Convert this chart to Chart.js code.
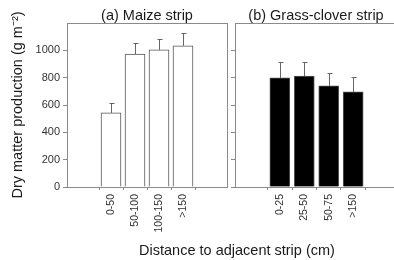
<!DOCTYPE html>
<html>
<head>
<meta charset="utf-8">
<script src="https://cdn.jsdelivr.net/npm/chart.js@4"></script>
<style>
  html, body { margin: 0; padding: 0; background: #fff; overflow: hidden; }
  #wrap { position: relative; width: 394px; height: 260px; overflow: hidden; font-family: "Liberation Sans", Arial, sans-serif; color: #1a1a1a; }
  canvas { position: absolute; top: 0; }
  .lbl { position: absolute; white-space: nowrap; font-size: 14.5px; transform: translate(-50%, -50%); }
</style>
</head>
<body>
<div id="wrap">
  <canvas id="maize" width="231" height="260" style="left:0"></canvas>
  <canvas id="grass" width="167" height="260" style="left:231px"></canvas>
  <div class="lbl" style="left:147px; top:15px">(a) Maize strip</div>
  <div class="lbl" style="left:316px; top:15px">(b) Grass-clover strip</div>
  <div class="lbl" style="left:237px; top:250px">Distance to adjacent strip (cm)</div>
</div>
<script>
const maizeLabels = ['0-50', '50-100', '100-150', '>150'];
const maizeValues = [542, 972, 1003, 1033];
const maizeErrors = [75, 82, 80, 92];

const grassLabels = ['0-25', '25-50', '50-75', '>150'];
const grassValues = [798, 812, 740, 696];
const grassErrors = [115, 103, 95, 110];

const yTicks = [0, 200, 400, 600, 800, 1000];

Chart.defaults.font.family = '"Liberation Sans", Arial, sans-serif';
Chart.defaults.color = '#333';

// frame round the plot area plus upward error bars
const framePlugin = {
    id: 'frame',
    afterDatasetsDraw(chart) {
        const ctx = chart.ctx;
        const a = chart.chartArea;
        const xs = chart.scales.x;
        const ys = chart.scales.y;
        const vals = chart.data.datasets[0].data;
        const errs = chart.options.plugins.frame.errors;
        ctx.save();
        ctx.strokeStyle = '#666';
        ctx.lineWidth = 1;
        vals.forEach((p, i) => {
            const x = Math.round(xs.getPixelForValue(p.x)) + 0.5;
            const y0 = ys.getPixelForValue(p.y);
            const y1 = Math.round(ys.getPixelForValue(p.y + errs[i])) + 0.5;
            ctx.beginPath();
            ctx.moveTo(x, y0);
            ctx.lineTo(x, y1);
            ctx.moveTo(x - 2, y1);
            ctx.lineTo(x + 3, y1);
            ctx.stroke();
        });
        ctx.strokeStyle = '#8a8a8a';
        ctx.strokeRect(Math.round(a.left) + 0.5, Math.round(a.top) + 0.5,
            Math.round(a.right - a.left), Math.round(a.bottom - a.top));
        ctx.restore();
    }
};

function makeChart(id, labels, values, errors, fill, yLabels, yWidth, pad) {
    return new Chart(document.getElementById(id), {
        type: 'bar',
        data: {
            datasets: [{
                data: values.map((v, i) => ({ x: i, y: v })),
                backgroundColor: fill,
                borderColor: '#555',
                borderWidth: 1,
                barThickness: 20
            }]
        },
        options: {
            responsive: false,
            animation: false,
            layout: { padding: pad },
            plugins: {
                legend: { display: false },
                tooltip: { enabled: false },
                frame: { errors: errors }
            },
            scales: {
                x: {
                    type: 'linear',
                    min: -1,
                    max: 4,
                    afterBuildTicks: s => { s.ticks = labels.map((_, i) => ({ value: i })); },
                    afterFit: s => { s.height = 73; },
                    ticks: {
                        callback: v => labels[v],
                        maxRotation: 90,
                        minRotation: 90,
                        autoSkip: false,
                        padding: 4,
                        font: { size: 10.5 },
                        color: '#333'
                    },
                    grid: { drawOnChartArea: false, tickLength: 3, color: '#888' },
                    border: { color: '#888' }
                },
                y: {
                    min: 0,
                    max: 1200,
                    afterBuildTicks: s => { s.ticks = yTicks.map(v => ({ value: v })); },
                    afterFit: s => { s.width = yWidth; },
                    title: {
                        display: yLabels,
                        text: 'Dry matter production (g m⁻²)',
                        color: '#1a1a1a',
                        font: { size: 14.5 },
                        padding: { top: 9, bottom: 0 }
                    },
                    ticks: {
                        display: yLabels,
                        callback: v => String(v),
                        padding: 3,
                        font: { size: 11 },
                        color: '#333'
                    },
                    grid: { drawOnChartArea: false, tickLength: 4, color: '#888' },
                    border: { color: '#888' }
                }
            }
        },
        plugins: [framePlugin]
    });
}

window.maizeChart = makeChart('maize', maizeLabels, maizeValues, maizeErrors, '#fff', true, 67,
    { left: 0, top: 23, right: 4, bottom: 0 });
window.grassChart = makeChart('grass', grassLabels, grassValues, grassErrors, '#000', false, 4,
    { left: 0, top: 23, right: 0, bottom: 0 });
</script>
</body>
</html>
